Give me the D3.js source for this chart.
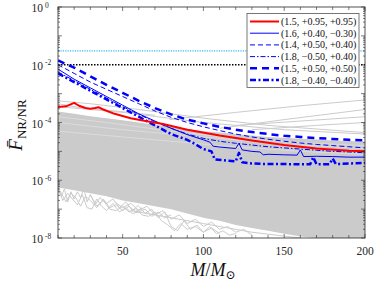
<!DOCTYPE html>
<html>
<head>
<meta charset="utf-8">
<script src="https://cdn.jsdelivr.net/npm/d3@7"></script>
<style>
  body { margin: 0; background: #fff; }
  text { font-family: 'Liberation Serif', 'DejaVu Serif', serif; }
</style>
</head>
<body>
<script>
const width = 374
const height = 281
const margin = {top: 7, right: 9, bottom: 43, left: 58}

// mass grid (M / Msun) for the highlighted curves, values are log10 of mismatch
const massGrid = [10, 20, 30, 40, 50, 60, 70, 80, 90, 100, 110, 120, 130, 140, 150, 160, 170, 180, 190, 200]

const redMass = [10, 15, 20, 23, 27, 30, 33, 35, 38, 45, 55, 65, 75, 90, 110, 130, 150, 170, 190, 200]
const redLog = [-3.46, -3.44, -3.32, -3.42, -3.5, -3.52, -3.5, -3.47, -3.55, -3.7, -3.85, -3.96, -4.05, -4.25, -4.45, -4.62, -4.78, -4.9, -4.98, -5.0]

const thinDashLog = [-2.0, -2.3, -2.6, -2.85, -3.1, -3.35, -3.6, -3.82, -4.0, -4.15, -4.28, -4.4, -4.5, -4.58, -4.65, -4.71, -4.76, -4.8, -4.84, -4.88]
const thickDashLog = [-1.85, -2.1, -2.4, -2.7, -2.97, -3.25, -3.5, -3.72, -3.9, -4.03, -4.15, -4.25, -4.33, -4.4, -4.46, -4.5, -4.54, -4.57, -4.6, -4.62]
const thinDotDashLog = [-2.25, -2.55, -2.85, -3.15, -3.45, -3.72, -3.98, -4.2, -4.4, -4.55, -4.65, -4.72, -4.78, -4.84, -4.88, -4.92, -4.96, -5.0, -5.02, -5.05]

const solidMass = [10, 20, 30, 40, 50, 60, 70, 80, 90, 100, 104, 106, 110, 120, 122, 124, 130, 135, 137, 140, 150, 158, 160, 162, 170, 180, 190, 200]
const solidLog = [-2.15, -2.5, -2.8, -3.1, -3.4, -3.7, -3.95, -4.2, -4.42, -4.6, -4.68, -4.82, -4.85, -4.9, -4.72, -4.95, -5.0, -5.02, -5.12, -5.1, -5.12, -5.13, -4.95, -5.18, -5.17, -5.18, -5.2, -5.2]

const thickDotDashMass = [10, 20, 30, 40, 50, 60, 70, 80, 90, 95, 100, 105, 107, 115, 120, 122, 124, 130, 140, 150, 160, 166, 168, 170, 178, 180, 182, 190, 200]
const thickDotDashLog = [-2.3, -2.6, -2.9, -3.2, -3.5, -3.8, -4.1, -4.4, -4.6, -4.75, -4.92, -5.0, -5.28, -5.32, -5.35, -5.05, -5.38, -5.42, -5.44, -5.44, -5.45, -5.45, -5.2, -5.45, -5.45, -5.25, -5.44, -5.42, -5.4]

const legendLabels = ['(1.5, +0.95, +0.95)', '(1.6, +0.40, \u22120.30)', '(1.4, +0.50, +0.40)',
    '(1.8, \u22120.50, +0.40)', '(1.5, +0.50, +0.50)', '(1.8, \u22120.40, \u22120.40)']

// horizontal thresholds
const cyanLevel = 0.03
const blackLevel = 0.01

// envelope of the dense grey background population (log10)
const bandMass = [10, 20, 30, 40, 50, 60, 70, 80, 90, 100, 110, 120, 130, 140, 150, 160, 170, 180, 190, 200]
const bandTop = [-3.62, -3.7, -3.78, -3.85, -3.92, -4.0, -4.08, -4.15, -4.22, -4.3, -4.35, -4.4, -4.45, -4.5, -4.53, -4.56, -4.59, -4.62, -4.64, -4.66]
const bandBottom = [-6.25, -6.35, -6.45, -6.55, -6.7, -6.8, -6.9, -7.0, -7.15, -7.3, -7.4, -7.55, -7.65, -7.75, -7.85, -7.95, -8.0, -8.0, -8.0, -8.0]

// individual grey curves that stick out of the dense band
const greyLines = [
    {m: [10, 12, 14, 16, 18, 20, 22, 24, 26, 28, 30, 33, 36, 40, 44, 48, 52, 56, 60],
     v: [-6.2, -6.55, -6.3, -6.75, -6.4, -6.65, -6.4, -6.6, -6.3, -6.75, -6.5, -6.85, -6.6, -6.8, -6.65, -6.95, -6.75, -7.05, -6.85]},
    {m: [10, 13, 16, 19, 22, 25, 28, 31, 34, 37, 40, 44, 48, 52, 56, 60, 64, 68, 72, 76, 80],
     v: [-6.3, -6.7, -6.45, -6.65, -6.85, -6.5, -6.95, -7.0, -6.65, -6.9, -7.05, -6.8, -7.1, -6.95, -7.15, -7.1, -7.0, -7.25, -7.1, -7.3, -7.2]},
    {m: [10, 12, 15, 18, 21, 24, 27, 30, 34, 38, 42, 46, 50, 54, 58, 62],
     v: [-6.25, -6.45, -6.75, -6.45, -6.6, -6.9, -6.55, -6.7, -6.95, -6.65, -6.95, -6.85, -7.05, -6.9, -7.1, -6.95]},
    {m: [30, 34, 38, 42, 46, 50, 54, 58, 62, 66, 70, 74, 78, 82, 86, 90, 95, 100, 105, 110],
     v: [-6.5, -6.9, -6.7, -7.0, -7.05, -6.9, -7.1, -7.0, -7.2, -7.25, -7.1, -7.4, -7.55, -7.75, -7.5, -7.7, -7.6, -7.8, -7.65, -7.85]},
    {m: [45, 50, 55, 60, 65, 70, 75, 80, 85, 90, 95, 100, 105, 110, 115, 120, 125, 130],
     v: [-6.75, -6.95, -6.8, -7.05, -6.9, -7.2, -7.05, -7.35, -7.2, -7.5, -7.35, -7.6, -7.45, -7.7, -7.6, -7.8, -7.7, -7.9]},
    {m: [60, 64, 68, 72, 76, 80, 84, 88, 92, 96, 100, 104, 108, 112, 116, 120],
     v: [-6.9, -7.15, -7.0, -7.3, -7.1, -7.6, -7.75, -7.4, -7.7, -7.55, -7.8, -7.6, -7.85, -7.75, -7.9, -7.85]},
    {m: [55, 70, 85, 100, 115, 130, 145, 160],
     v: [-7.05, -7.2, -7.35, -7.5, -7.65, -7.8, -7.9, -8.0]},
    {m: [10, 30, 60, 100, 140, 200],
     v: [-3.25, -3.35, -3.55, -3.85, -4.1, -4.35]},
    {m: [10, 50, 100, 150, 200],
     v: [-3.45, -3.65, -4.0, -4.25, -4.4]},
    {m: [10, 25, 45, 70],
     v: [-3.35, -3.5, -3.6, -3.75]},
    {m: [79, 120, 160, 200],
     v: [-3.9, -3.65, -3.42, -3.22]},
    {m: [110, 150, 200],
     v: [-4.2, -3.9, -3.55]},
    {m: [120, 160, 200],
     v: [-4.1, -3.95, -3.8]},
    {m: [130, 170, 200],
     v: [-4.25, -4.1, -4.0]}
]

// lighter streaks inside the dense band
const streaks = [
    {m: [10, 40, 80, 120, 160, 200], v: [-3.8, -4.0, -4.3, -4.55, -4.7, -4.8]},
    {m: [10, 50, 100, 150, 200], v: [-4.0, -4.25, -4.5, -4.75, -4.9]},
    {m: [10, 60, 110, 160, 200], v: [-4.3, -4.55, -4.8, -5.0, -5.1]}
]

const x = d3.scaleLinear()
    .domain([10, 200])
    .range([margin.left, width - margin.right])

const y = d3.scaleLog()
    .domain([1e-8, 1])
    .range([height - margin.bottom, margin.top])

const svg = d3.select('body')
    .append('svg')
    .attr('width', width)
    .attr('height', height)

svg.append('defs').append('clipPath')
    .attr('id', 'clip')
    .append('rect')
    .attr('x', margin.left)
    .attr('y', margin.top)
    .attr('width', width - margin.left - margin.right)
    .attr('height', height - margin.top - margin.bottom)

const plot = svg.append('g').attr('clip-path', 'url(#clip)')

const pw = v => Math.pow(10, v)
const grey = '#cbcbcb'

const band = d3.area()
    .x((d, i) => x(bandMass[i]))
    .y0((d, i) => y(pw(bandBottom[i])))
    .y1((d, i) => y(pw(bandTop[i])))

plot.append('path')
    .datum(bandMass)
    .attr('fill', grey)
    .attr('d', band)

const logLine = d3.line()
    .x(d => x(d[0]))
    .y(d => y(pw(d[1])))

greyLines.forEach(g => {
    plot.append('path')
        .datum(d3.zip(g.m, g.v))
        .attr('fill', 'none')
        .attr('stroke', grey)
        .attr('stroke-width', 1)
        .attr('d', logLine)
})

streaks.forEach(g => {
    plot.append('path')
        .datum(d3.zip(g.m, g.v))
        .attr('fill', 'none')
        .attr('stroke', '#e2e2e2')
        .attr('stroke-width', 0.7)
        .attr('d', logLine)
})

// thresholds
plot.append('line')
    .attr('x1', x(10)).attr('x2', x(200))
    .attr('y1', y(cyanLevel)).attr('y2', y(cyanLevel))
    .attr('stroke', '#33bbee')
    .attr('stroke-width', 1.2)
    .attr('stroke-dasharray', '1.2,1.2')

plot.append('line')
    .attr('x1', x(10)).attr('x2', x(200))
    .attr('y1', y(blackLevel)).attr('y2', y(blackLevel))
    .attr('stroke', '#000')
    .attr('stroke-width', 1.5)
    .attr('stroke-dasharray', '1.5,1.5')

const series = [
    {m: redMass, v: redLog, color: '#ff0000', w: 2, dash: null},
    {m: solidMass, v: solidLog, color: '#0000ff', w: 1, dash: null},
    {m: massGrid, v: thinDashLog, color: '#0000ff', w: 1, dash: '5,3'},
    {m: massGrid, v: thinDotDashLog, color: '#0000ff', w: 1, dash: '5,2,1.5,2'},
    {m: massGrid, v: thickDashLog, color: '#0000ff', w: 2.5, dash: '7,5'},
    {m: thickDotDashMass, v: thickDotDashLog, color: '#0000ff', w: 2.5, dash: '6,2.5,2,2.5'}
]

// blue first, red on top
series.slice(1).concat(series.slice(0, 1)).forEach(s => {
    plot.append('path')
        .datum(d3.zip(s.m, s.v))
        .attr('fill', 'none')
        .attr('stroke', s.color)
        .attr('stroke-width', s.w)
        .attr('stroke-dasharray', s.dash)
        .attr('stroke-linejoin', 'round')
        .attr('d', logLine)
})

// axes box with inward ticks on all sides
const x0 = margin.left
const x1 = width - margin.right
const y0 = height - margin.bottom
const y1 = margin.top

const axes = svg.append('g')
    .attr('stroke', '#262626')
    .attr('stroke-width', 0.6)

const xTicks = d3.range(10, 201, 10)
xTicks.forEach(t => {
    const len = t % 50 === 0 ? 4 : 3
    axes.append('line').attr('x1', x(t)).attr('x2', x(t)).attr('y1', y0).attr('y2', y0 - len)
    axes.append('line').attr('x1', x(t)).attr('x2', x(t)).attr('y1', y1).attr('y2', y1 + len)
})

const yMajor = d3.range(-8, 1).map(e => Math.pow(10, e))
const yMinor = []
d3.range(-8, 0).forEach(e => {
    d3.range(2, 10).forEach(k => yMinor.push(k * Math.pow(10, e)))
})
yMajor.forEach(t => {
    axes.append('line').attr('x1', x0).attr('x2', x0 + 4).attr('y1', y(t)).attr('y2', y(t))
    axes.append('line').attr('x1', x1).attr('x2', x1 - 4).attr('y1', y(t)).attr('y2', y(t))
})
yMinor.forEach(t => {
    axes.append('line').attr('x1', x0).attr('x2', x0 + 2).attr('y1', y(t)).attr('y2', y(t))
    axes.append('line').attr('x1', x1).attr('x2', x1 - 2).attr('y1', y(t)).attr('y2', y(t))
})

axes.append('rect')
    .attr('x', x0).attr('y', y1)
    .attr('width', x1 - x0).attr('height', y0 - y1)
    .attr('fill', 'none')
    .attr('stroke-width', 0.8)

// tick labels
const labelX = [50, 100, 150, 200]
svg.selectAll('text.xt')
    .data(labelX)
    .enter()
    .append('text')
    .attr('class', 'xt')
    .attr('x', d => x(d))
    .attr('y', y0 + 17)
    .attr('text-anchor', 'middle')
    .attr('font-size', 11.5)
    .attr('fill', '#262626')
    .text(d => d)

const labelY = [0, -2, -4, -6, -8]
const yl = svg.selectAll('g.yt')
    .data(labelY)
    .enter()
    .append('g')
    .attr('class', 'yt')
yl.append('text')
    .attr('x', 43)
    .attr('y', d => y(Math.pow(10, d)) + 5)
    .attr('text-anchor', 'end')
    .attr('font-size', 11.5)
    .attr('fill', '#262626')
    .text('10')
yl.append('text')
    .attr('x', 45)
    .attr('y', d => y(Math.pow(10, d)) + 0.5)
    .attr('font-size', 7.5)
    .attr('fill', '#262626')
    .text(d => d === 0 ? '0' : '-' + Math.abs(d))

// axis titles
const xt = svg.append('text')
    .attr('x', 213)
    .attr('y', 276)
    .attr('text-anchor', 'middle')
    .attr('font-size', 18)
    .attr('fill', '#111')
xt.append('tspan').attr('font-style', 'italic').text('M')
xt.append('tspan').text('/')
xt.append('tspan').attr('font-style', 'italic').text('M')
xt.append('tspan').attr('font-size', 12).attr('dy', 3).text('\u2299')

const ytitle = svg.append('text')
    .attr('transform', 'translate(22,125) rotate(-90)')
    .attr('text-anchor', 'middle')
    .attr('font-size', 19)
    .attr('fill', '#111')
ytitle.append('tspan').attr('font-style', 'italic').text('F\u0304')
ytitle.append('tspan').attr('font-size', 13).attr('dy', 4).text('NR/NR')

// legend
const lg = svg.append('g')
lg.append('rect')
    .attr('x', 247).attr('y', 13.5)
    .attr('width', 112).attr('height', 74)
    .attr('fill', '#fff')
    .attr('stroke', '#555')
    .attr('stroke-width', 0.8)

series.forEach((s, i) => {
    const ly = 21.5 + i * 11.7
    lg.append('line')
        .attr('x1', 250).attr('x2', 279)
        .attr('y1', ly).attr('y2', ly)
        .attr('stroke', s.color)
        .attr('stroke-width', s.w)
        .attr('stroke-dasharray', s.dash)
    lg.append('text')
        .attr('x', 281)
        .attr('y', ly + 3.5)
        .attr('font-size', 10)
        .attr('fill', '#111')
        .text(legendLabels[i])
})
</script>
</body>
</html>
